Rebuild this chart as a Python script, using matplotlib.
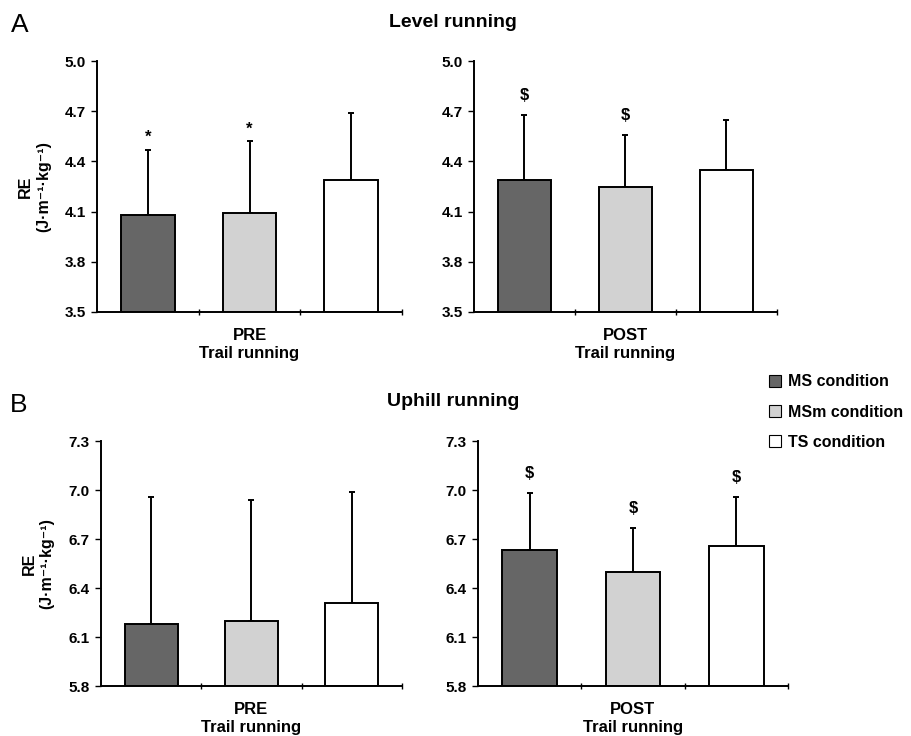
import numpy as np
import matplotlib.pyplot as plt
from matplotlib.patches import Patch

plt.rcParams['font.family'] = ['Liberation Sans', 'DejaVu Sans']

conditions = ["MS condition", "MSm condition", "TS condition"]
colors = ["#666666", "#d2d2d2", "#ffffff"]

# level running
level_pre_mean = [4.08, 4.09, 4.29]
level_pre_sd = [0.39, 0.43, 0.40]
level_pre_marks = ["*", "*", ""]
level_post_mean = [4.29, 4.25, 4.35]
level_post_sd = [0.39, 0.31, 0.30]
level_post_marks = ["$", "$", ""]
level_ticks = [3.5, 3.8, 4.1, 4.4, 4.7, 5.0]

# uphill running
uphill_pre_mean = [6.18, 6.20, 6.31]
uphill_pre_sd = [0.78, 0.74, 0.68]
uphill_pre_marks = ["", "", ""]
uphill_post_mean = [6.63, 6.50, 6.66]
uphill_post_sd = [0.35, 0.27, 0.30]
uphill_post_marks = ["$", "$", "$"]
uphill_ticks = [5.8, 6.1, 6.4, 6.7, 7.0, 7.3]

fig = plt.figure(figsize=(9.12, 7.36), dpi=100)


def bar_panel(rect, means, sds, marks, yticks, xlabel, ylabel=True):
    ax = fig.add_axes(rect)
    x = np.arange(len(means))
    ax.bar(x, np.array(means) - yticks[0], bottom=yticks[0], width=0.53,
           color=colors, edgecolor="black", linewidth=1.4, zorder=2)
    ax.errorbar(x, means, yerr=[np.zeros(len(sds)), sds], fmt="none",
                ecolor="black", elinewidth=1.4, capsize=2, capthick=1.4, zorder=1)
    for xi, m, s, mk in zip(x, means, sds, marks):
        if mk:
            off = 9 if mk == "*" else 14
            ax.annotate(mk, (xi, m + s), xytext=(0, off), textcoords="offset points",
                        ha="center", va="center", fontsize=12, fontweight="bold")
    ax.set_xlim(-0.5, 2.5)
    ax.set_ylim(yticks[0], yticks[-1])
    ax.set_yticks(yticks)
    ax.set_yticklabels([f"{t:.1f}" for t in yticks], fontsize=11, fontweight="bold")
    ax.set_xticks([0.5, 1.5, 2.5])
    ax.set_xticklabels([])
    ax.tick_params(axis="x", direction="inout", length=4, width=1)
    ax.tick_params(axis="y", direction="out", length=4, width=1, pad=4)
    ax.spines["top"].set_visible(False)
    ax.spines["right"].set_visible(False)
    ax.spines["left"].set_linewidth(1.4)
    ax.spines["bottom"].set_linewidth(1.4)
    ax.set_xlabel(xlabel, fontsize=12, fontweight="bold", labelpad=6, linespacing=1.25)
    if ylabel:
        ax.set_ylabel("RE\n(J·m⁻¹·kg⁻¹)", fontsize=11.5,
                      fontweight="bold", labelpad=10, linespacing=1.25)
    return ax


bar_panel([0.1064, 0.5761, 0.3344, 0.341], level_pre_mean, level_pre_sd,
          level_pre_marks, level_ticks, "PRE\nTrail running")
bar_panel([0.5197, 0.5761, 0.3322, 0.341], level_post_mean, level_post_sd,
          level_post_marks, level_ticks, "POST\nTrail running", ylabel=False)
bar_panel([0.1107, 0.0679, 0.330, 0.3329], uphill_pre_mean, uphill_pre_sd,
          uphill_pre_marks, uphill_ticks, "PRE\nTrail running")
bar_panel([0.524, 0.0679, 0.340, 0.3329], uphill_post_mean, uphill_post_sd,
          uphill_post_marks, uphill_ticks, "POST\nTrail running", ylabel=False)

fig.text(0.012, 0.966, "A", fontsize=19, va="center", ha="left")
fig.text(0.497, 0.970, "Level running", fontsize=14, fontweight="bold", ha="center", va="center")
fig.text(0.011, 0.450, "B", fontsize=19, va="center", ha="left")
fig.text(0.497, 0.454, "Uphill running", fontsize=14, fontweight="bold", ha="center", va="center")

handles = [Patch(facecolor=c, edgecolor="black", linewidth=0.8) for c in colors]
fig.legend(handles, conditions, loc="upper left", bbox_to_anchor=(0.836, 0.5), frameon=False,
           prop={"weight": "bold", "size": 11.5}, handlelength=0.75, handleheight=0.75,
           handletextpad=0.45, labelspacing=0.95, borderaxespad=0)

fig.savefig("out.png", dpi=100)
